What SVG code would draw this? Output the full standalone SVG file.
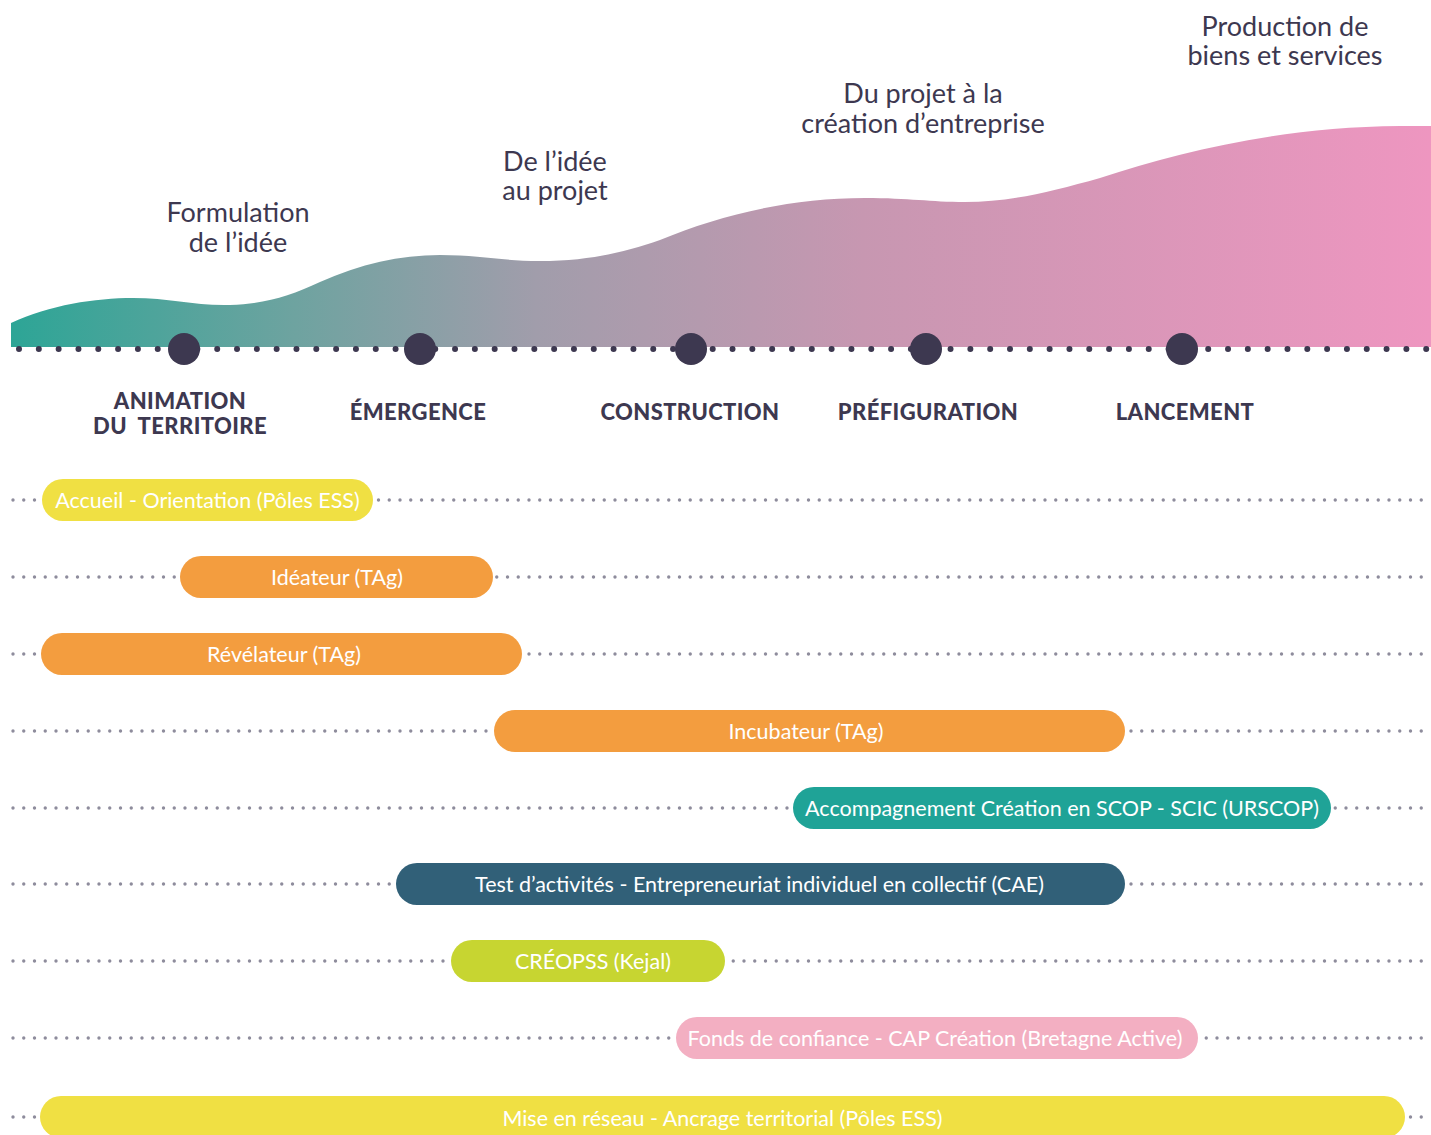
<svg xmlns="http://www.w3.org/2000/svg" width="1431" height="1135" viewBox="0 0 1431 1135">
<defs>
<linearGradient id="wave" x1="11" y1="0" x2="1431" y2="0" gradientUnits="userSpaceOnUse">
<stop offset="0" stop-color="#2da596"/>
<stop offset="0.2" stop-color="#6ea3a0"/>
<stop offset="0.37" stop-color="#a19dab"/>
<stop offset="0.6" stop-color="#c797b1"/>
<stop offset="1" stop-color="#ee96c0"/>
</linearGradient>
</defs>
<style>
.head{font-family:Lato,"Liberation Sans",sans-serif;font-size:27px;fill:#3d3850;text-anchor:middle}
.lab{font-family:Lato,"Liberation Sans",sans-serif;font-size:22px;font-weight:900;letter-spacing:0.4px;fill:#3d3850;text-anchor:middle}
.bt{font-family:Lato,"Liberation Sans",sans-serif;font-size:21.5px;fill:#ffffff;text-anchor:middle}
.row{stroke:#8e8c9c;stroke-width:3.4;stroke-linecap:round;stroke-dasharray:0 10.75;fill:none}
.tl{stroke:#3d3850;stroke-width:6;stroke-linecap:round;stroke-dasharray:0 19.82;fill:none}
.big{fill:#3d3850}
</style>
<rect width="1431" height="1135" fill="#ffffff"/>
<path d="M11,323 C50,305 95,298 133,298 C170,298 195,306 230,305 C265,304 290,296 320,282 C360,264 400,255 440,255 C480,255 500,261 540,261 C590,261 625,252 660,240 C720,215 790,198 865,198 C910,198 930,202 965,202 C1010,202 1050,192 1100,178 C1180,152 1280,127 1400,126 L1431,126 L1431,347 L11,347 Z" fill="url(#wave)"/>
<g id="headings">
<text class="head" x="238" y="222">Formulation</text>
<text class="head" x="238" y="252">de l’idée</text>
<text class="head" x="555" y="171">De l’idée</text>
<text class="head" x="555" y="200">au projet</text>
<text class="head" x="923" y="103">Du projet à la</text>
<text class="head" x="923" y="133">création d’entreprise</text>
<text class="head" x="1285" y="36">Production de</text>
<text class="head" x="1285" y="65">biens et services</text>
</g>
<g id="connectors">
<line class="tl" x1="19" y1="349" x2="1427" y2="349"/>
<line class="row" x1="13" y1="500" x2="1425" y2="500"/>
<line class="row" x1="13" y1="577" x2="1425" y2="577"/>
<line class="row" x1="13" y1="654" x2="1425" y2="654"/>
<line class="row" x1="13" y1="731" x2="1425" y2="731"/>
<line class="row" x1="13" y1="808" x2="1425" y2="808"/>
<line class="row" x1="13" y1="884" x2="1425" y2="884"/>
<line class="row" x1="13" y1="961" x2="1425" y2="961"/>
<line class="row" x1="13" y1="1038" x2="1425" y2="1038"/>
<line class="row" x1="13" y1="1117" x2="1425" y2="1117"/>
</g>
<g id="stage-animation">
<circle class="big" cx="184" cy="349" r="16"/>
<text class="lab" x="180" y="409">ANIMATION</text>
<text class="lab" x="180" y="434" xml:space="preserve">DU  TERRITOIRE</text>
</g>
<g id="stage-emergence">
<circle class="big" cx="420" cy="349" r="16"/>
<text class="lab" x="418" y="420">ÉMERGENCE</text>
</g>
<g id="stage-construction">
<circle class="big" cx="691" cy="349" r="16"/>
<text class="lab" x="690" y="420">CONSTRUCTION</text>
</g>
<g id="stage-prefiguration">
<circle class="big" cx="926" cy="349" r="16"/>
<text class="lab" x="928" y="420">PRÉFIGURATION</text>
</g>
<g id="stage-lancement">
<circle class="big" cx="1182" cy="349" r="16"/>
<text class="lab" x="1185" y="420">LANCEMENT</text>
</g>
<g id="bar-accueil">
<rect x="42" y="479" width="331" height="42" rx="21" fill="#f0e043"/>
<text class="bt" x="207.5" y="508">Accueil - Orientation (Pôles ESS)</text>
</g>
<g id="bar-ideateur">
<rect x="180" y="556" width="313" height="42" rx="21" fill="#f39d3f"/>
<text class="bt" x="337" y="585">Idéateur (TAg)</text>
</g>
<g id="bar-revelateur">
<rect x="41" y="633" width="481" height="42" rx="21" fill="#f39d3f"/>
<text class="bt" x="284" y="662">Révélateur (TAg)</text>
</g>
<g id="bar-incubateur">
<rect x="494" y="710" width="631" height="42" rx="21" fill="#f39d3f"/>
<text class="bt" x="806" y="739">Incubateur (TAg)</text>
</g>
<g id="bar-scop">
<rect x="793" y="787" width="538" height="42" rx="21" fill="#1fa397"/>
<text class="bt" x="1062" y="816">Accompagnement Création en SCOP - SCIC (URSCOP)</text>
</g>
<g id="bar-cae">
<rect x="396" y="863" width="729" height="42" rx="21" fill="#316078"/>
<text class="bt" x="759.5" y="892">Test d’activités - Entrepreneuriat individuel en collectif (CAE)</text>
</g>
<g id="bar-creopss">
<rect x="451" y="940" width="274" height="42" rx="21" fill="#c7d531"/>
<text class="bt" x="593" y="969">CRÉOPSS (Kejal)</text>
</g>
<g id="bar-fonds">
<rect x="676" y="1017" width="522" height="42" rx="21" fill="#f3afc2"/>
<text class="bt" x="935" y="1046">Fonds de confiance - CAP Création (Bretagne Active)</text>
</g>
<g id="bar-reseau">
<rect x="40" y="1096" width="1365" height="42" rx="21" fill="#f0e043"/>
<text class="bt" x="722.5" y="1126">Mise en réseau - Ancrage territorial (Pôles ESS)</text>
</g>
</svg>
